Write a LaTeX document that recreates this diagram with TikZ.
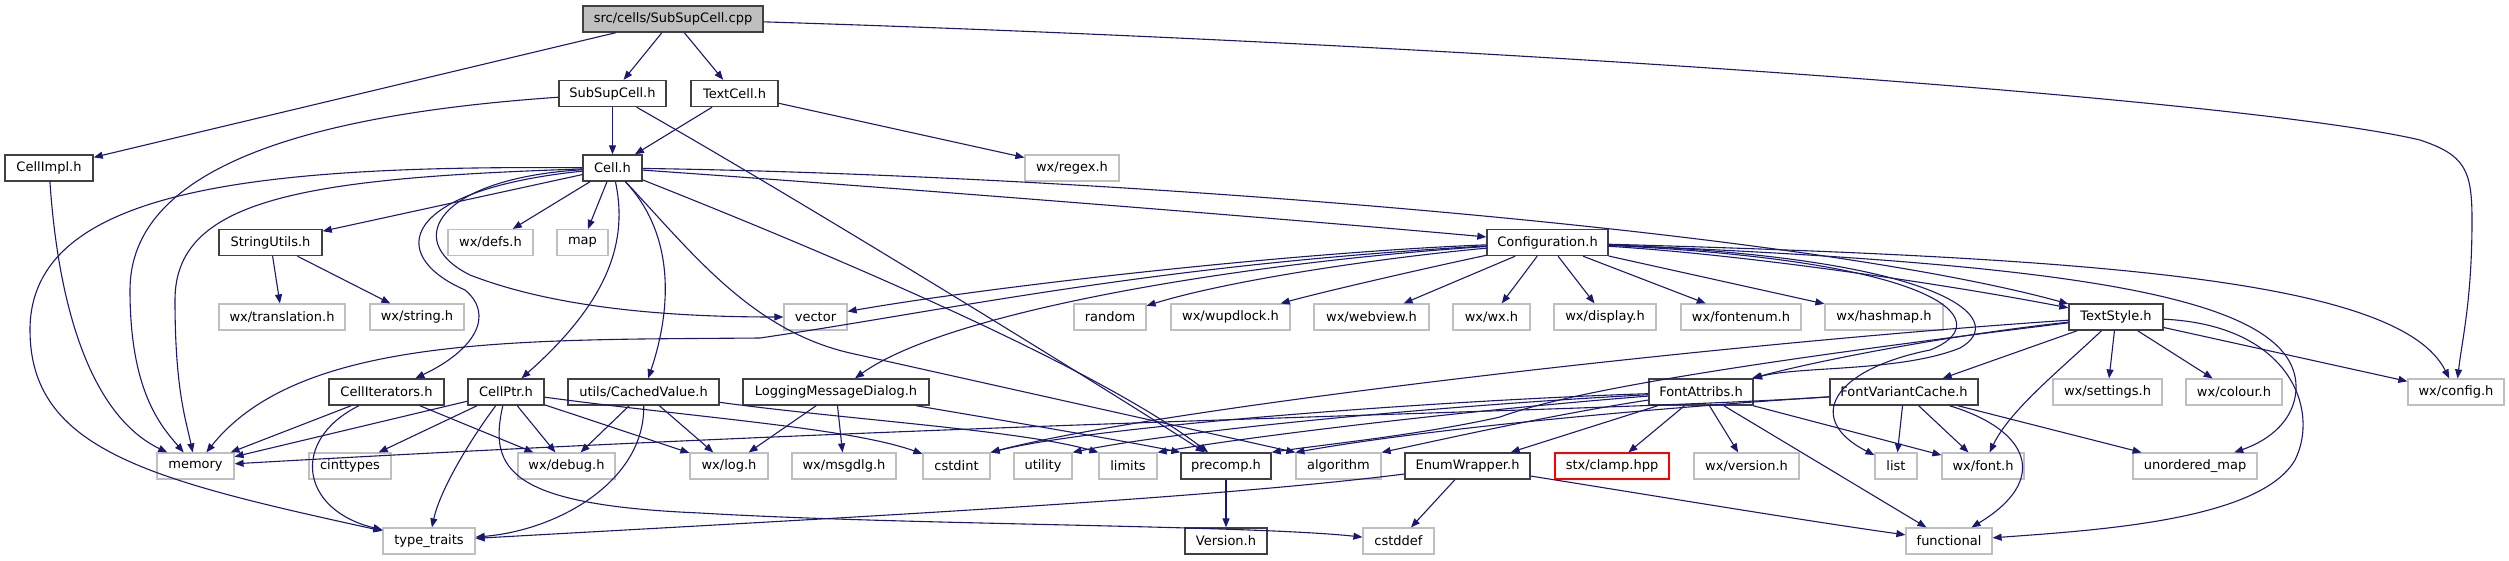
\documentclass[tikz,border=0pt]{standalone}
\usepackage{fontspec}
\setmainfont{DejaVu Sans}
\usetikzlibrary{arrows.meta}
\definecolor{edgec}{HTML}{191970}
\definecolor{gborder}{HTML}{BFBFBF}
\definecolor{dborder}{HTML}{404040}
\definecolor{rootfill}{HTML}{BFBFBF}
\begin{document}
\begin{tikzpicture}[x=1pt,y=-1pt,
  every node/.style={font=\fontsize{13}{15}\selectfont, inner sep=0pt, minimum height=26pt, anchor=center},
  dbox/.style={draw=dborder, line width=1.4pt, fill=white},
  gbox/.style={draw=gborder, line width=1.2pt, fill=white},
  rbox/.style={draw=red, line width=1.2pt, fill=white},
  rootbox/.style={draw=dborder, line width=1.4pt, fill=rootfill},
  dep/.style={draw=edgec, line width=1.1pt, -{Triangle[length=9pt,width=7pt]}}]
\useasboundingbox (0,0) rectangle (2509,560);
% ---------- nodes ----------
\node[rootbox, minimum width=180pt] (root) at (673,19) {src/cells/SubSupCell.cpp};
\node[dbox, minimum width=107pt] (SSC) at (612.5,93.5) {SubSupCell.h};
\node[dbox, minimum width=87pt] (TC) at (734.5,93.5) {TextCell.h};
\node[dbox, minimum width=88pt] (CI) at (49,168) {CellImpl.h};
\node[dbox, minimum width=59pt] (Cell) at (612.5,168) {Cell.h};
\node[gbox, minimum width=94pt] (regex) at (1072,168) {wx/regex.h};
\node[dbox, minimum width=103pt] (SU) at (270.5,242.5) {StringUtils.h};
\node[gbox, minimum width=85pt] (defs) at (490.5,242.5) {wx/defs.h};
\node[gbox, minimum width=51pt] (map) at (582.5,242.5) {map};
\node[dbox, minimum width=121pt] (Conf) at (1547.5,242.5) {Configuration.h};
\node[gbox, minimum width=126pt] (transl) at (282,317) {wx/translation.h};
\node[gbox, minimum width=94pt] (wxstr) at (417,317) {wx/string.h};
\node[gbox, minimum width=63pt] (vector) at (815.5,317) {vector};
\node[gbox, minimum width=72pt] (random) at (1110,317) {random};
\node[gbox, minimum width=119pt] (wupd) at (1230.5,317) {wx/wupdlock.h};
\node[gbox, minimum width=115pt] (webv) at (1371.5,317) {wx/webview.h};
\node[gbox, minimum width=77pt] (wxwx) at (1491.5,317) {wx/wx.h};
\node[gbox, minimum width=102pt] (disp) at (1605,317) {wx/display.h};
\node[gbox, minimum width=120pt] (fenum) at (1741,317) {wx/fontenum.h};
\node[gbox, minimum width=118pt] (hmap) at (1884,317) {wx/hashmap.h};
\node[dbox, minimum width=94pt] (TS) at (2116,317) {TextStyle.h};
\node[dbox, minimum width=115pt] (CIt) at (386.5,392) {CellIterators.h};
\node[dbox, minimum width=76pt] (CP) at (506,392) {CellPtr.h};
\node[dbox, minimum width=151pt] (CV) at (643.5,392) {utils/CachedValue.h};
\node[dbox, minimum width=186pt] (LMD) at (836,392) {LoggingMessageDialog.h};
\node[dbox, minimum width=104pt] (FA) at (1701,392) {FontAttribs.h};
\node[dbox, minimum width=148pt] (FVC) at (1904,392) {FontVariantCache.h};
\node[gbox, minimum width=109pt] (sett) at (2107.5,392) {wx/settings.h};
\node[gbox, minimum width=96pt] (colour) at (2234,392) {wx/colour.h};
\node[gbox, minimum width=96pt] (config) at (2456,392) {wx/config.h};
\node[gbox, minimum width=77pt] (memory) at (195.5,466) {memory};
\node[gbox, minimum width=82pt] (cinttypes) at (350,466) {cinttypes};
\node[gbox, minimum width=97pt] (debug) at (566.5,466) {wx/debug.h};
\node[gbox, minimum width=78pt] (log) at (729,466) {wx/log.h};
\node[gbox, minimum width=104pt] (msgdlg) at (844,466) {wx/msgdlg.h};
\node[gbox, minimum width=67pt] (cstdint) at (956.5,466) {cstdint};
\node[gbox, minimum width=58pt] (utility) at (1043,466) {utility};
\node[gbox, minimum width=58pt] (limits) at (1128,466) {limits};
\node[dbox, minimum width=90pt] (precomp) at (1226,466) {precomp.h};
\node[gbox, minimum width=85pt] (algorithm) at (1338.5,466) {algorithm};
\node[dbox, minimum width=125pt] (EW) at (1467.5,466) {EnumWrapper.h};
\node[rbox, minimum width=114pt] (clamp) at (1612,466) {stx/clamp.hpp};
\node[gbox, minimum width=105pt] (version) at (1746.5,466) {wx/version.h};
\node[gbox, minimum width=42pt] (list) at (1896,466) {list};
\node[gbox, minimum width=82pt] (font) at (1983,466) {wx/font.h};
\node[gbox, minimum width=124pt] (umap) at (2195,466) {unordered\_map};
\node[gbox, minimum width=92pt] (tt) at (429,541) {type\_traits};
\node[dbox, minimum width=82pt] (Version) at (1226,541) {Version.h};
\node[gbox, minimum width=71pt] (cstddef) at (1398.5,541) {cstddef};
\node[gbox, minimum width=86pt] (functional) at (1949,541) {functional};
% ---------- edges ----------
% root
\draw[dep] (root) -- (CI);
\draw[dep] (root) -- (SSC);
\draw[dep] (root) -- (TC);
\draw[dep] (root) .. controls (1500,45) and (2250,100) .. (2420,140) .. controls (2465,155) and (2472,170) .. (2472,220) .. controls (2472,300) and (2462,340) .. (config);
% SubSupCell.h
\draw[dep] (SSC) -- (Cell);
\draw[dep] (SSC) .. controls (300,115) and (130,170) .. (130,290) .. controls (130,390) and (160,425) .. (memory);
\draw[dep] (SSC) .. controls (800,200) and (1100,385) .. (precomp);
% TextCell.h
\draw[dep] (TC) -- (Cell);
\draw[dep] (TC) -- (regex);
% CellImpl.h
\draw[dep] (CI) .. controls (60,330) and (100,420) .. (memory);
% Cell.h
\draw[dep] (Cell) -- (SU);
\draw[dep] (Cell) -- (defs);
\draw[dep] (Cell) -- (map);
\draw[dep] (Cell) .. controls (440,178) and (400,240) .. (470,275) .. controls (560,310) and (680,317) .. (vector);
\draw[dep] (Cell) .. controls (400,190) and (385,255) .. (465,290) .. controls (495,315) and (475,350) .. (CIt);
\draw[dep] (Cell) .. controls (300,178) and (175,200) .. (175,300) .. controls (175,390) and (186,420) .. (memory);
\draw[dep] (Cell) .. controls (250,165) and (30,190) .. (30,330) .. controls (30,450) and (150,480) .. (tt);
\draw[dep] (Cell) .. controls (628,240) and (610,300) .. (CP);
\draw[dep] (Cell) .. controls (680,240) and (668,320) .. (CV);
\draw[dep] (Cell) .. controls (900,188) and (1300,220) .. (Conf);
\draw[dep] (Cell) .. controls (1100,175) and (1800,230) .. (TS);
\draw[dep] (Cell) .. controls (850,262) and (1100,370) .. (precomp);
\draw[dep] (Cell) .. controls (690,250) and (750,330) .. (850,353) -- (algorithm.north west);
% StringUtils.h
\draw[dep] (SU) -- (transl);
\draw[dep] (SU) -- (wxstr);
% Configuration.h
\draw[dep] (Conf) .. controls (1300,252) and (1000,285) .. (vector);
\draw[dep] (Conf) .. controls (1380,258) and (1230,280) .. (random);
\draw[dep] (Conf) .. controls (1440,265) and (1330,290) .. (wupd);
\draw[dep] (Conf) -- (webv);
\draw[dep] (Conf) -- (wxwx);
\draw[dep] (Conf) -- (disp);
\draw[dep] (Conf) -- (fenum);
\draw[dep] (Conf) -- (hmap);
\draw[dep] (Conf) .. controls (1750,255) and (1950,285) .. (TS);
\draw[dep] (Conf) .. controls (1250,262) and (950,310) .. (LMD);
\draw[dep] (Conf) .. controls (1150,265) and (950,310) .. (760,338) .. controls (520,340) and (300,335) .. (memory);
\draw[dep] (Conf) .. controls (2100,258) and (2400,280) .. (config);
\draw[dep] (Conf) .. controls (1950,258) and (2010,320) .. (1960,348) .. controls (1900,372) and (1800,366) .. (FA);
\draw[dep] (Conf) .. controls (1960,262) and (1995,325) .. (1930,350) .. controls (1830,370) and (1805,420) .. (list);
\draw[dep] (Conf) .. controls (2100,265) and (2300,300) .. (2296,390) .. controls (2294,420) and (2270,440) .. (umap);
% TextStyle.h
\draw[dep] (TS) .. controls (1950,335) and (1820,360) .. (FA);
\draw[dep] (TS) -- (FVC);
\draw[dep] (TS) -- (sett);
\draw[dep] (TS) -- (colour);
\draw[dep] (TS) .. controls (2060,370) and (2010,410) .. (font);
\draw[dep] (TS) -- (config);
\draw[dep] (TS) .. controls (2290,325) and (2320,410) .. (2295,460) .. controls (2260,520) and (2100,530) .. (functional);
\draw[dep] (TS) .. controls (1700,345) and (1150,410) .. (cstdint.north east);
\draw[dep] (TS) .. controls (1700,368) and (1560,395) .. (1500,417) .. controls (1420,435) and (1320,445) .. (precomp.north east);
% FontAttribs.h
\draw[dep] (FA) .. controls (1450,400) and (1100,425) .. (cstdint.north east);
\draw[dep] (FA) .. controls (1450,405) and (1180,430) .. (utility.north east);
\draw[dep] (FA) .. controls (1470,410) and (1260,435) .. (limits.north east);
\draw[dep] (FA) .. controls (1550,415) and (1440,440) .. (algorithm.north east);
\draw[dep] (FA) -- (EW);
\draw[dep] (FA) -- (clamp);
\draw[dep] (FA) -- (version);
\draw[dep] (FA) -- (functional);
\draw[dep] (FA) -- (font);
% FontVariantCache.h
\draw[dep] (FVC) -- (list);
\draw[dep] (FVC) -- (font);
\draw[dep] (FVC) -- (umap);
\draw[dep] (FVC) .. controls (2030,430) and (2050,480) .. (functional);
\draw[dep] (FVC) .. controls (1600,412) and (1000,420) .. (memory);
\draw[dep] (FVC) .. controls (1700,405) and (1450,425) .. (algorithm.north west);
% CellIterators.h
\draw[dep] (CIt) -- (memory);
\draw[dep] (CIt) .. controls (290,440) and (300,510) .. (tt);
\draw[dep] (CIt) -- (debug);
% CellPtr.h
\draw[dep] (CP) -- (memory);
\draw[dep] (CP) -- (cinttypes);
\draw[dep] (CP) .. controls (470,440) and (440,490) .. (tt);
\draw[dep] (CP) -- (debug);
\draw[dep] (CP) -- (log);
\draw[dep] (CP) .. controls (488,470) and (510,505) .. (700,513) .. controls (900,525) and (1250,525) .. (cstddef);
\draw[dep] (CP) .. controls (700,418) and (850,428) .. (cstdint);
% utils/CachedValue.h
\draw[dep] (CV) -- (debug);
\draw[dep] (CV) -- (log);
\draw[dep] (CV) .. controls (645,480) and (560,530) .. (tt);
\draw[dep] (CV) .. controls (850,420) and (1020,430) .. (limits.north west);
% LoggingMessageDialog.h
\draw[dep] (LMD) -- (log);
\draw[dep] (LMD) -- (msgdlg);
\draw[dep] (LMD) .. controls (1000,420) and (1120,440) .. (precomp.north west);
% EnumWrapper.h
\draw[dep] (EW) .. controls (1200,500) and (800,520) .. (tt);
\draw[dep] (EW) -- (cstddef);
\draw[dep] (EW) .. controls (1650,495) and (1800,520) .. (functional);
% precomp.h
\draw[dep] (precomp) -- (Version);
\end{tikzpicture}
\end{document}
